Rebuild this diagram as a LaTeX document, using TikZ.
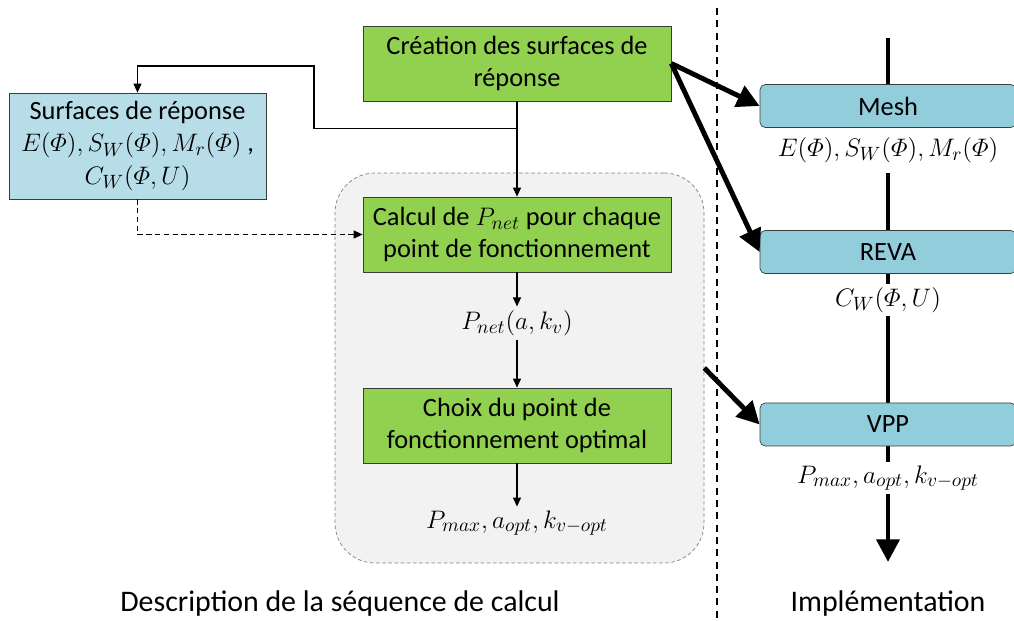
\documentclass[tikz,border=0pt]{standalone}
\usepackage{amsmath}
\usepackage{fontspec}
\setmainfont{Carlito}
\usetikzlibrary{arrows.meta,positioning,calc}
\definecolor{boxgreen}  {RGB}{146,208,80}
\definecolor{surfblue}  {RGB}{183,222,232}
\definecolor{implblue}  {RGB}{146,205,220}
\definecolor{zonegray}  {RGB}{242,242,242}
\definecolor{edgegray}  {RGB}{60,60,60}

\begin{document}
\begin{tikzpicture}[
  every node/.style={font=\fontsize{15}{18.5}\selectfont},
  gbox/.style={draw=edgegray,fill=boxgreen,minimum width=6.16cm,minimum height=1.5cm,
               align=center,inner sep=2pt},
  sbox/.style={draw=edgegray,fill=surfblue,minimum width=5.14cm,minimum height=2.12cm,
               align=center,inner sep=2pt},
  ibox/.style={draw=edgegray,fill=implblue,rounded corners=3pt,
               minimum width=5.12cm,minimum height=0.86cm,inner sep=2pt},
  res/.style={fill=white,inner sep=2pt},
  zres/.style={inner sep=2pt},
  arr/.style={-{Triangle[length=1.8mm,width=1.6mm]},line width=0.6pt},
  darr/.style={arr,dash pattern=on 3pt off 2pt},
  bigarr/.style={-{Triangle[length=4.5mm,width=4.5mm]},line width=2.8pt},
  titre/.style={font=\fontsize{17}{20}\selectfont},
]
\useasboundingbox (0,0) rectangle (20.28,-12.42);
\clip (0,0) rectangle (20.28,-12.42);

%% ── Calculation sequence ────────────────────────────────────────────────
\node[draw=gray,fill=zonegray,dash pattern=on 2pt off 1.5pt,rounded corners=0.8cm,
      minimum width=7.38cm,minimum height=7.8cm] (zone) at (10.39,-7.36) {};

\node[gbox] (creation) at (10.34,-1.27) {Création des surfaces de\\réponse};
\node[sbox] (surf) at (2.75,-2.92)
  {Surfaces de réponse\\$E(\varPhi),S_W(\varPhi),M_r(\varPhi)$ ,\\$C_W(\varPhi,U)$};
\node[gbox] (calcul) at (10.34,-4.69) {Calcul de $P_{net}$ pour chaque\\point de fonctionnement};
\node[zres] (pnet) at (10.34,-6.46) {$P_{net}(a,k_v)$};
\node[gbox] (choix) at (10.34,-8.51) {Choix du point de\\fonctionnement optimal};
\node[zres] (pmax) at (10.34,-10.46) {$P_{max},a_{opt},k_{v-opt}$};

%% ── Connections ─────────────────────────────────────────────────────────
\coordinate (split) at ($(creation.south)+(0,-0.54)$);
\coordinate (bend) at (6.28,-1.32);
\draw[arr] (creation.south) -- (calcul.north);
\draw[arr] (split) -| (bend) -| (surf.north);
\draw[darr] (surf.south) |- (calcul.west);
\draw[arr] (calcul.south) -- (pnet.north);
\draw[arr] (pnet.south) -- (choix.north);
\draw[arr] (choix.south) -- (pmax.north);

%% ── Separator ───────────────────────────────────────────────────────────
\coordinate (divtop) at (14.34,-0.16);
\coordinate (divbot) at (14.34,-12.42);
\draw[line width=0.8pt,dash pattern=on 4pt off 3pt] (divtop) -- (divbot);

%% ── Implementation ──────────────────────────────────────────────────────
\coordinate (flowtop) at (17.76,-0.76);
\coordinate (flowbot) at (17.76,-11.24);
\draw[bigarr] (flowtop) -- (flowbot);

\node[res,inner ysep=6pt] (meshout) at (17.76,-3.0) {$E(\varPhi),S_W(\varPhi),M_r(\varPhi)$};
\node[ibox] (mesh) at (17.76,-2.12) {Mesh};
\node[ibox] (reva) at (17.76,-5.04) {REVA};
\node[res] (revaout) at (17.76,-6.0) {$C_W(\varPhi,U)$};
\node[ibox] (vpp) at (17.76,-8.49) {VPP};
\node[res] (vppout) at (17.76,-9.56) {$P_{max},a_{opt},k_{v-opt}$};

\draw[bigarr] (creation.east) -- (mesh.west);
\draw[bigarr] (creation.east) -- (reva.west);
\draw[bigarr] (zone.east) -- (vpp.west);

%% ── Titles ──────────────────────────────────────────────────────────────
\node[titre] (desc) at (6.8,-12.08) {Description de la séquence de calcul};
\node[titre] (impl) at (17.76,-12.08) {Implémentation};

\end{tikzpicture}
\end{document}
